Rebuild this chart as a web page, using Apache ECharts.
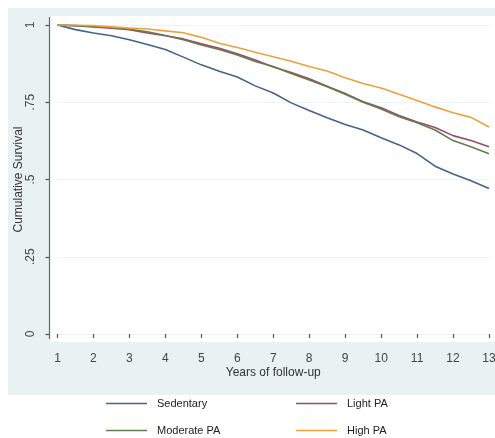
<!DOCTYPE html>
<html>
<head>
<meta charset="utf-8">
<script src="https://cdn.jsdelivr.net/npm/echarts@6/dist/echarts.min.js"></script>
<style>html,body{margin:0;padding:0;background:#fff;}#c{width:495px;height:438px;}</style>
</head>
<body>
<div id="c"></div>
<script>
var years = [1,1.5,2,2.5,3,3.5,4,4.5,5,5.5,6,6.5,7,7.5,8,8.5,9,9.5,10,10.5,11,11.5,12,12.5,13];
var sedentary = [1.000,0.985,0.974,0.965,0.952,0.937,0.921,0.896,0.871,0.850,0.832,0.803,0.780,0.748,0.723,0.700,0.678,0.660,0.635,0.612,0.584,0.543,0.518,0.496,0.471];
var lightPA = [1.000,0.998,0.994,0.990,0.985,0.974,0.965,0.955,0.939,0.925,0.907,0.887,0.864,0.846,0.826,0.802,0.778,0.752,0.732,0.707,0.686,0.668,0.642,0.626,0.606];
var moderatePA = [1.000,0.998,0.995,0.992,0.986,0.978,0.966,0.952,0.935,0.921,0.903,0.882,0.866,0.843,0.822,0.800,0.776,0.750,0.728,0.703,0.684,0.660,0.626,0.606,0.583];
var highPA = [1.000,1.000,0.998,0.994,0.990,0.987,0.981,0.975,0.960,0.941,0.927,0.912,0.897,0.883,0.866,0.851,0.829,0.811,0.796,0.776,0.756,0.735,0.716,0.701,0.670];
var seriesNames = ['Sedentary','Light PA','Moderate PA','High PA'];
var yTickValues = [0, 0.25, 0.5, 0.75, 1];
var yTickLabels = ['0', '.25', '.5', '.75', '1'];
var xTitle = 'Years of follow-up';
var yTitle = 'Cumulative Survival';

var colors = ['#45628a', '#9a4a68', '#647d4e', '#eba23e'];
function pairs(v){ return years.map(function(x,i){ return [x, v[i]]; }); }
var allData = [sedentary, lightPA, moderatePA, highPA];

var chart = echarts.init(document.getElementById('c'), null, {renderer:'canvas'});
var font = 'Liberation Sans, Arial, sans-serif';
function legendAt(name, left, top){
  return {
    data:[name], left:left, top:top, padding:0, orient:'horizontal',
    icon:'rect', itemWidth:41, itemHeight:1.5,
    textStyle:{fontFamily:font, fontSize:11, color:'#222', padding:[0,0,0,5]}
  };
}
chart.setOption({
  animation:false,
  backgroundColor:'#ffffff',
  color: colors,
  graphic:[
    {type:'rect', shape:{x:8, y:8, width:487, height:387}, style:{fill:'#e9f1f2'}, z:-10, silent:true},
    {type:'rect', shape:{x:50, y:16, width:445, height:326}, style:{fill:'#ffffff'}, z:-9, silent:true},
    {type:'line', shape:{x1:49.5, y1:17, x2:49.5, y2:339}, style:{stroke:'#666', lineWidth:1.2}, z:5, silent:true}
  ],
  grid:{left:57.5, right:6, top:25, bottom:104, containLabel:false, outerBoundsMode:'none'},
  legend:[
    legendAt(seriesNames[0], 106, 398),
    legendAt(seriesNames[1], 296, 398),
    legendAt(seriesNames[2], 106, 425),
    legendAt(seriesNames[3], 296, 425)
  ],
  xAxis:{
    type:'value', min:1, max:13, interval:1, offset:8,
    name:xTitle, nameLocation:'middle', nameGap:25, nameMoveOverlap:false,
    nameTextStyle:{fontFamily:font, fontSize:12, color:'#333'},
    axisLine:{show:false},
    axisTick:{show:true, length:4, lineStyle:{color:'#555', width:1.2}},
    axisLabel:{fontFamily:font, fontSize:12, color:'#444', margin:11},
    splitLine:{show:false}
  },
  yAxis:{
    type:'value', min:0, max:1, interval:0.25, offset:8,
    name:yTitle, nameLocation:'middle', nameGap:25, nameRotate:90, nameMoveOverlap:false,
    nameTextStyle:{fontFamily:font, fontSize:12, color:'#333'},
    axisLine:{show:false},
    axisTick:{show:true, length:4, lineStyle:{color:'#555', width:1.2}},
    axisLabel:{fontFamily:font, fontSize:12, color:'#444', rotate:90, margin:13,
      formatter:function(v){ var i = yTickValues.indexOf(v); return i>=0 ? yTickLabels[i] : ''; }},
    splitLine:{show:true, lineStyle:{color:'#eef2f3', width:1}}
  },
  series: seriesNames.map(function(n,i){
    return {name:n, type:'line', data:pairs(allData[i]), showSymbol:false, symbol:'none',
      lineStyle:{width:1.6, color:colors[i]}, itemStyle:{color:colors[i]}, z:2+i};
  })
});
</script>
</body>
</html>
